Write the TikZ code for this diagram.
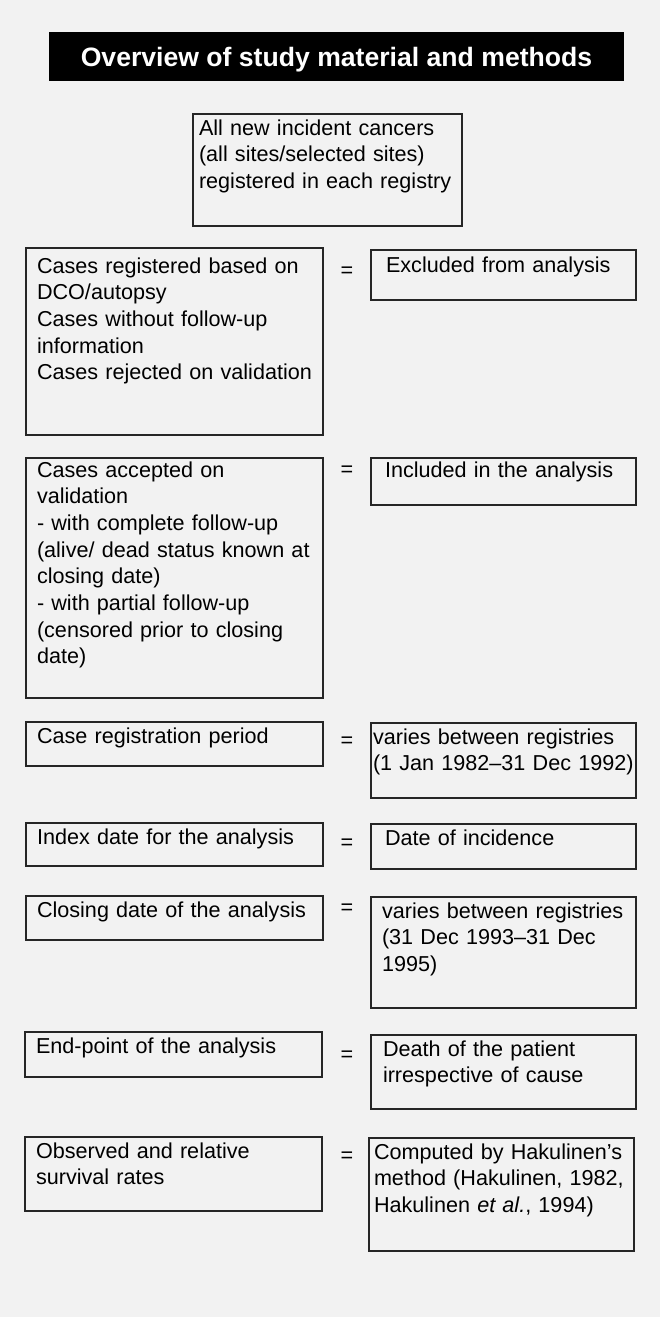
\documentclass[tikz,border=0pt]{standalone}
\usepackage{fontspec}
\setmainfont{Liberation Sans}
\newcommand{\bodyfont}{\fontsize{21.6}{26.7}\selectfont}
\begin{document}
\begin{tikzpicture}[x=1pt, y=-1pt,
  cell/.style={draw=black!85, line width=1.2pt, anchor=north west, align=left, outer sep=0pt,
    inner ysep=5pt, text height=16pt, font=\bodyfont},
  lcell/.style={cell, inner xsep=11pt, text width=275pt},
  eqsign/.style={anchor=base, inner sep=0pt, font=\bodyfont},
  titlebar/.style={fill=black, text=white, minimum width=575pt, minimum height=49pt, inner sep=0pt,
    text height=19.2pt, text depth=0pt, font=\fontsize{26.6}{30}\selectfont\bfseries}]

  \fill[black!5] (0,0) rectangle (660,1317);

  \node[titlebar] (title) at (336.5,56.5) {Overview of study material and methods};
  \node[cell, inner xsep=6pt, text width=257pt, text depth=86pt] (allnew) at (193,114)
    {All new incident cancers\\(all sites/selected sites)\\registered in each registry};

  \node[lcell, text height=20pt, text depth=157pt] (rejected) at (26,248)
    {Cases registered based on\\DCO/autopsy\\Cases without follow-up\\information\\Cases rejected on validation};
  \node[eqsign] (eq1) at (347,277) {=};
  \node[cell, inner xsep=15pt, text width=235pt, text height=17pt, text depth=23pt] (excluded) at (371,250)
    {Excluded from analysis};

  \node[lcell, text height=14pt, text depth=216pt] (accepted) at (26,458)
    {Cases accepted on\\validation\\- with complete follow-up\\(alive/ dead status known at\\closing date)\\- with partial follow-up\\(censored prior to closing\\date)};
  \node[eqsign] (eq2) at (347,476) {=};
  \node[cell, inner xsep=14pt, text width=237pt, text height=14pt, text depth=23pt] (included) at (371,458)
    {Included in the analysis};

  \node[lcell, text depth=18pt] (period) at (26,722) {Case registration period};
  \node[eqsign] (eq3) at (347,747) {=};
  \node[cell, inner xsep=2pt, text width=261pt, text depth=49pt] (periodval) at (371,723)
    {varies between registries\\(1~Jan~1982–31~Dec~1992)};

  \node[lcell, text depth=17pt] (index) at (26,823) {Index date for the analysis};
  \node[eqsign] (eq4) at (347,849) {=};
  \node[cell, inner xsep=14pt, text width=237pt, text depth=19pt] (incidence) at (371,824) {Date of incidence};

  \node[lcell, text depth=18pt] (closing) at (26,896) {Closing date of the analysis};
  \node[eqsign] (eq5) at (347,914) {=};
  \node[cell, inner xsep=11pt, text width=243pt, text depth=85pt] (closingval) at (371,897)
    {varies between registries\\(31 Dec 1993–31 Dec\\1995)};

  \node[lcell, text depth=19pt] (endpoint) at (25,1032) {End-point of the analysis};
  \node[eqsign] (eq6) at (347,1061) {=};
  \node[cell, inner xsep=12pt, text width=241pt, text depth=48pt] (death) at (371,1035)
    {Death of the patient\\irrespective of cause};

  \node[lcell, text depth=48pt] (rates) at (25,1137) {Observed and relative\\survival rates};
  \node[eqsign] (eq7) at (347,1162) {=};
  \node[cell, inner xsep=5pt, text width=255pt, text depth=87pt] (method) at (369,1138)
    {Computed by Hakulinen's\\method (Hakulinen, 1982,\\Hakulinen \textit{et al.}, 1994)};

\end{tikzpicture}
\end{document}
